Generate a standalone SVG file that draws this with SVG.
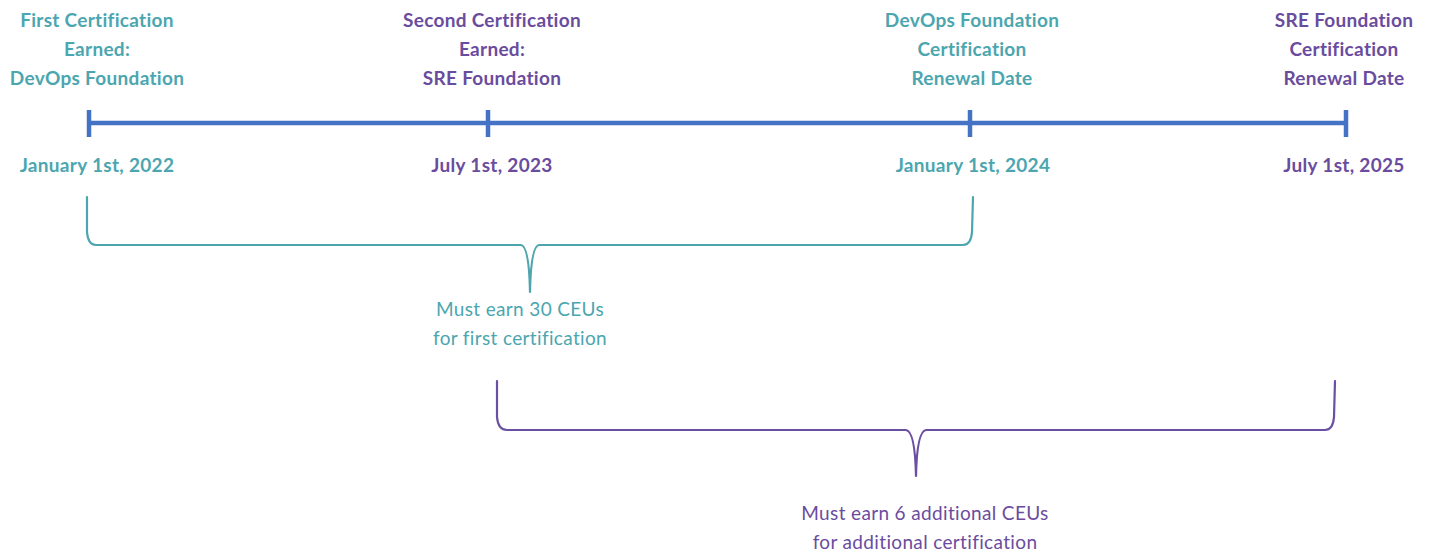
<svg xmlns="http://www.w3.org/2000/svg" width="1432" height="550" viewBox="0 0 1432 550">
<style>
.t{font-family:Lato,"Open Sans","Liberation Sans",sans-serif;font-weight:bold;font-size:19px;letter-spacing:0.3px;text-anchor:middle}
.n{font-family:Lato,"Open Sans","Liberation Sans",sans-serif;font-size:19px;letter-spacing:0.35px;text-anchor:middle}
.teal{fill:#4BA6AF}
.purp{fill:#6A4C9E}
.tick{stroke:#4472C4;stroke-width:4.5;fill:none}
.br{fill:none;stroke-width:2.2;stroke-linecap:round;stroke-linejoin:round}
</style>
<rect width="1432" height="550" fill="#ffffff"/>
<g id="timeline">
<line class="tick" x1="89" y1="123" x2="1346" y2="123"/>
<line class="tick" x1="89" y1="110" x2="89" y2="137"/>
<line class="tick" x1="488" y1="110" x2="488" y2="137"/>
<line class="tick" x1="970" y1="110" x2="970" y2="137"/>
<line class="tick" x1="1346" y1="110" x2="1346" y2="137"/>
</g>
<g id="m1">
<text class="t teal" x="97" y="26.5">First Certification</text>
<text class="t teal" x="97" y="55.5">Earned:</text>
<text class="t teal" x="97" y="84.5">DevOps Foundation</text>
<text class="t teal" x="97" y="171.5">January 1st, 2022</text>
</g>
<g id="m2">
<text class="t purp" x="492" y="26.5">Second Certification</text>
<text class="t purp" x="492" y="55.5">Earned:</text>
<text class="t purp" x="492" y="84.5">SRE Foundation</text>
<text class="t purp" x="492" y="171.5">July 1st, 2023</text>
</g>
<g id="m3">
<text class="t teal" x="972" y="26.5">DevOps Foundation</text>
<text class="t teal" x="972" y="55.5">Certification</text>
<text class="t teal" x="972" y="84.5">Renewal Date</text>
<text class="t teal" x="973" y="171.5">January 1st, 2024</text>
</g>
<g id="m4">
<text class="t purp" x="1344" y="26.5">SRE Foundation</text>
<text class="t purp" x="1344" y="55.5">Certification</text>
<text class="t purp" x="1344" y="84.5">Renewal Date</text>
<text class="t purp" x="1344" y="171.5">July 1st, 2025</text>
</g>
<g id="connectors">
<path class="br" stroke="#4FA5AE" d="M87,197 L87,232 Q88,245 96,245 L521,245 Q529,246 530,292 Q531,246 539,245 L963,245 Q971,245 972,232 L973,197"/>
<path class="br" stroke="#6A4FA3" d="M497,381 L497,417 Q498,430 507,430 L906,430 Q915,431 916,476 Q917,431 926,430 L1325,430 Q1333,430 1334,417 L1335,381"/>
</g>
<g id="brace1">
<text class="n teal" x="520" y="315.5">Must earn 30 CEUs</text>
<text class="n teal" x="520" y="344.5">for first certification</text>
</g>
<g id="brace2">
<text class="n purp" x="925" y="519.5">Must earn 6 additional CEUs</text>
<text class="n purp" x="925" y="548.5">for additional certification</text>
</g>
</svg>
